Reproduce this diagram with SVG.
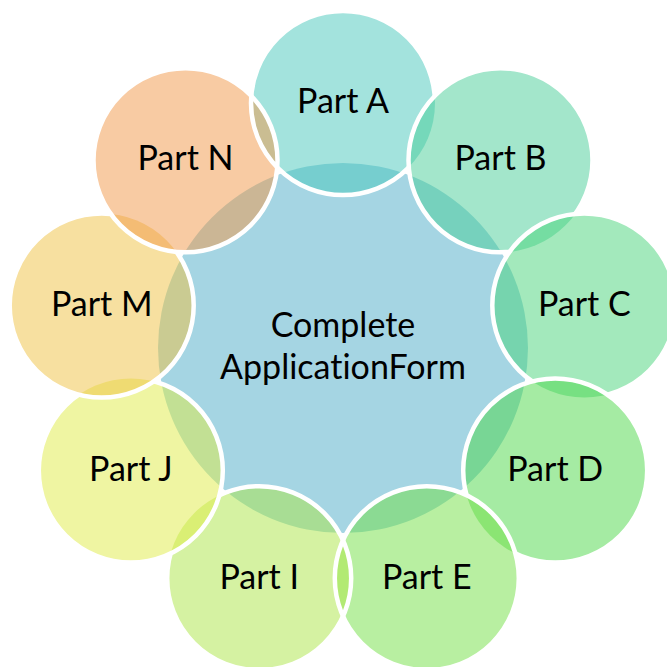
<svg xmlns="http://www.w3.org/2000/svg" width="667" height="667" viewBox="0 0 667 667">
  <style>
    .hub { fill: #A5D5E3; }
    .petal { fill-opacity: 0.5; }
    .outline { fill: none; stroke: #FFFFFF; stroke-width: 4.5; }
    .label { font-family: Lato, "Open Sans", "Liberation Sans", sans-serif; font-size: 34px; fill: #000000; text-anchor: middle; font-variant-ligatures: none; font-feature-settings: "liga" 0, "clig" 0; }
  </style>
  <defs>
    <!-- each outline is hidden inside the petal that sits on top of it -->
    <mask id="under-b" maskUnits="userSpaceOnUse" x="0" y="0" width="667" height="667">
      <rect width="667" height="667" fill="#fff"/><circle cx="500.5" cy="160.3" r="92" fill="#000"/>
    </mask>
    <mask id="under-c" maskUnits="userSpaceOnUse" x="0" y="0" width="667" height="667">
      <rect width="667" height="667" fill="#fff"/><circle cx="584.3" cy="305.5" r="92" fill="#000"/>
    </mask>
    <mask id="under-d" maskUnits="userSpaceOnUse" x="0" y="0" width="667" height="667">
      <rect width="667" height="667" fill="#fff"/><circle cx="555.2" cy="470.5" r="92" fill="#000"/>
    </mask>
    <mask id="under-e" maskUnits="userSpaceOnUse" x="0" y="0" width="667" height="667">
      <rect width="667" height="667" fill="#fff"/><circle cx="426.8" cy="578.2" r="92" fill="#000"/>
    </mask>
    <mask id="under-j" maskUnits="userSpaceOnUse" x="0" y="0" width="667" height="667">
      <rect width="667" height="667" fill="#fff"/><circle cx="130.8" cy="470.5" r="92" fill="#000"/>
    </mask>
    <mask id="under-m" maskUnits="userSpaceOnUse" x="0" y="0" width="667" height="667">
      <rect width="667" height="667" fill="#fff"/><circle cx="101.7" cy="305.5" r="92" fill="#000"/>
    </mask>
    <mask id="under-n" maskUnits="userSpaceOnUse" x="0" y="0" width="667" height="667">
      <rect width="667" height="667" fill="#fff"/><circle cx="185.5" cy="160.3" r="92" fill="#000"/>
    </mask>
  </defs>

  <rect width="667" height="667" fill="#FFFFFF"/>

  <g id="center">
    <circle class="hub" cx="343" cy="348" r="185"/>
  </g>

  <g id="part-a">
    <circle class="petal" cx="343" cy="103" r="92" fill="#47C7BB"/>
  </g>
  <g id="part-b">
    <circle class="petal" cx="500.5" cy="160.3" r="92" fill="#47CD97"/>
  </g>
  <g id="part-c">
    <circle class="petal" cx="584.3" cy="305.5" r="92" fill="#47D379"/>
  </g>
  <g id="part-d">
    <circle class="petal" cx="555.2" cy="470.5" r="92" fill="#4BD747"/>
  </g>
  <g id="part-e">
    <circle class="petal" cx="426.8" cy="578.2" r="92" fill="#71DF43"/>
  </g>
  <g id="part-i">
    <circle class="petal" cx="259.2" cy="578.2" r="92" fill="#ABE545"/>
  </g>
  <g id="part-j">
    <circle class="petal" cx="130.8" cy="470.5" r="92" fill="#DFEB45"/>
  </g>
  <g id="part-m">
    <circle class="petal" cx="101.7" cy="305.5" r="92" fill="#EFC141"/>
  </g>
  <g id="part-n">
    <circle class="petal" cx="185.5" cy="160.3" r="92" fill="#F19747"/>
  </g>

  <!-- white rims of the petals -->
  <g id="outlines">
    <circle class="outline" cx="343" cy="103" r="92" mask="url(#under-b)"/>
    <circle class="outline" cx="500.5" cy="160.3" r="92" mask="url(#under-c)"/>
    <circle class="outline" cx="584.3" cy="305.5" r="92" mask="url(#under-d)"/>
    <circle class="outline" cx="555.2" cy="470.5" r="92" mask="url(#under-e)"/>
    <circle class="outline" cx="426.8" cy="578.2" r="92"/>
    <circle class="outline" cx="259.2" cy="578.2" r="92" mask="url(#under-j)"/>
    <circle class="outline" cx="130.8" cy="470.5" r="92" mask="url(#under-m)"/>
    <circle class="outline" cx="101.7" cy="305.5" r="92" mask="url(#under-n)"/>
    <circle class="outline" cx="185.5" cy="160.3" r="92"/>
  </g>

  <g id="labels">
    <text class="label" x="343" y="337">Complete</text>
    <text class="label" x="343" y="379">ApplicationForm</text>
    <text class="label" x="343" y="113">Part A</text>
    <text class="label" x="500.5" y="170">Part B</text>
    <text class="label" x="584.3" y="315.5">Part C</text>
    <text class="label" x="555.2" y="480.5">Part D</text>
    <text class="label" x="426.8" y="588.5">Part E</text>
    <text class="label" x="259.2" y="588.5">Part I</text>
    <text class="label" x="130.8" y="480.5">Part J</text>
    <text class="label" x="101.7" y="315.5">Part M</text>
    <text class="label" x="185.5" y="170">Part N</text>
  </g>
</svg>
